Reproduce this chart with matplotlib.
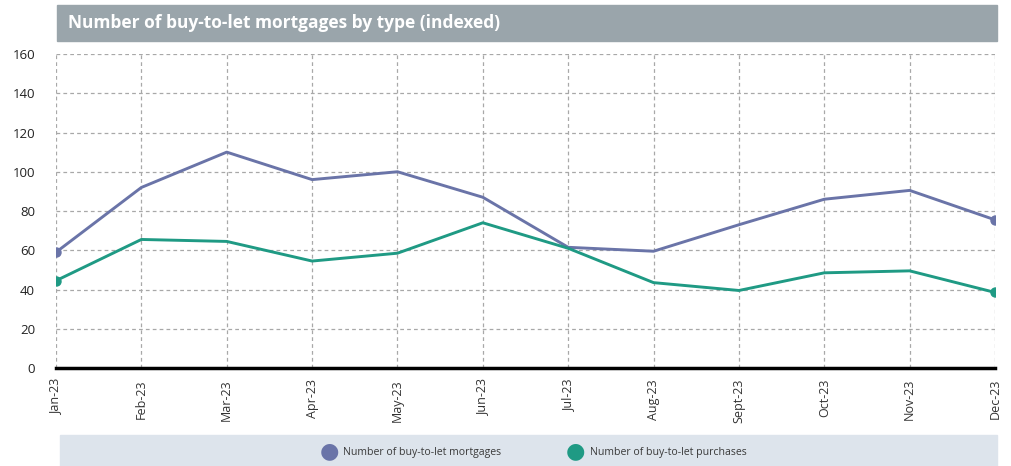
import matplotlib.pyplot as plt
from matplotlib.patches import Rectangle

plt.rcParams['font.family'] = ['Open Sans', 'DejaVu Sans']

# data
months = ['Jan-23', 'Feb-23', 'Mar-23', 'Apr-23', 'May-23', 'Jun-23',
          'Jul-23', 'Aug-23', 'Sept-23', 'Oct-23', 'Nov-23', 'Dec-23']
mortgages = [59, 92, 110, 96, 100, 87, 61.5, 59.5, 73, 86, 90.5, 75.5]
purchases = [44.5, 65.5, 64.5, 54.5, 58.5, 74, 61, 43.5, 39.5, 48.5, 49.5, 38.5]
yticks = [0, 20, 40, 60, 80, 100, 120, 140, 160]

c_mort = '#6a74a8'
c_purch = '#1f9a84'

fig = plt.figure(figsize=(10.11, 4.66), dpi=100)
ax = fig.add_axes([0.0554, 0.2103, 0.9288, 0.6738])

x = list(range(len(months)))
ax.plot(x, mortgages, color=c_mort, linewidth=2.1, zorder=3)
ax.plot(x, purchases, color=c_purch, linewidth=2.1, zorder=3)
ax.plot([x[0], x[-1]], [mortgages[0], mortgages[-1]], 'o', color=c_mort, markersize=6.5, zorder=4)
ax.plot([x[0], x[-1]], [purchases[0], purchases[-1]], 'o', color=c_purch, markersize=6.5, zorder=4)

ax.set_xlim(0, len(months) - 1)
ax.set_ylim(0, 160)
ax.set_yticks(yticks)
ax.set_xticks(x)
ax.set_xticklabels(months, rotation=90, fontsize=9, color='#333333')
ax.tick_params(axis='y', labelsize=9.5, colors='#222222', length=0, pad=15)
ax.tick_params(axis='x', length=0, pad=8)
ax.grid(True, linestyle=(0, (3, 2.5)), color='#a8a8a8', linewidth=0.9)
for s in ['top', 'right', 'left']:
    ax.spines[s].set_visible(False)
ax.spines['bottom'].set_linewidth(2.5)
ax.spines['bottom'].set_color('black')
ax.spines['bottom'].set_zorder(5)

# title bar
fig.patches.append(Rectangle((57 / 1011, 1 - 41 / 466), 940 / 1011, 36 / 466,
                             transform=fig.transFigure, color='#9aa5ab', zorder=0))
fig.text(68 / 1011, 1 - 23 / 466, 'Number of buy-to-let mortgages by type (indexed)',
         color='white', fontsize=12.5, fontweight='bold', va='center', ha='left')

# legend bar
fig.patches.append(Rectangle((60 / 1011, 0), 937 / 1011, 31 / 466,
                             transform=fig.transFigure, color='#dde4ec', zorder=0))
fig.text(329 / 1011, 1 - 452 / 466, '\u25CF', color=c_mort, fontsize=16, va='center', ha='center')
fig.text(343 / 1011, 1 - 453 / 466, 'Number of buy-to-let mortgages', color='#3a3a3a',
         fontsize=7.6, va='center', ha='left')
fig.text(575 / 1011, 1 - 452 / 466, '\u25CF', color=c_purch, fontsize=16, va='center', ha='center')
fig.text(590 / 1011, 1 - 453 / 466, 'Number of buy-to-let purchases', color='#3a3a3a',
         fontsize=7.6, va='center', ha='left')

fig.savefig('out.png', dpi=100)
